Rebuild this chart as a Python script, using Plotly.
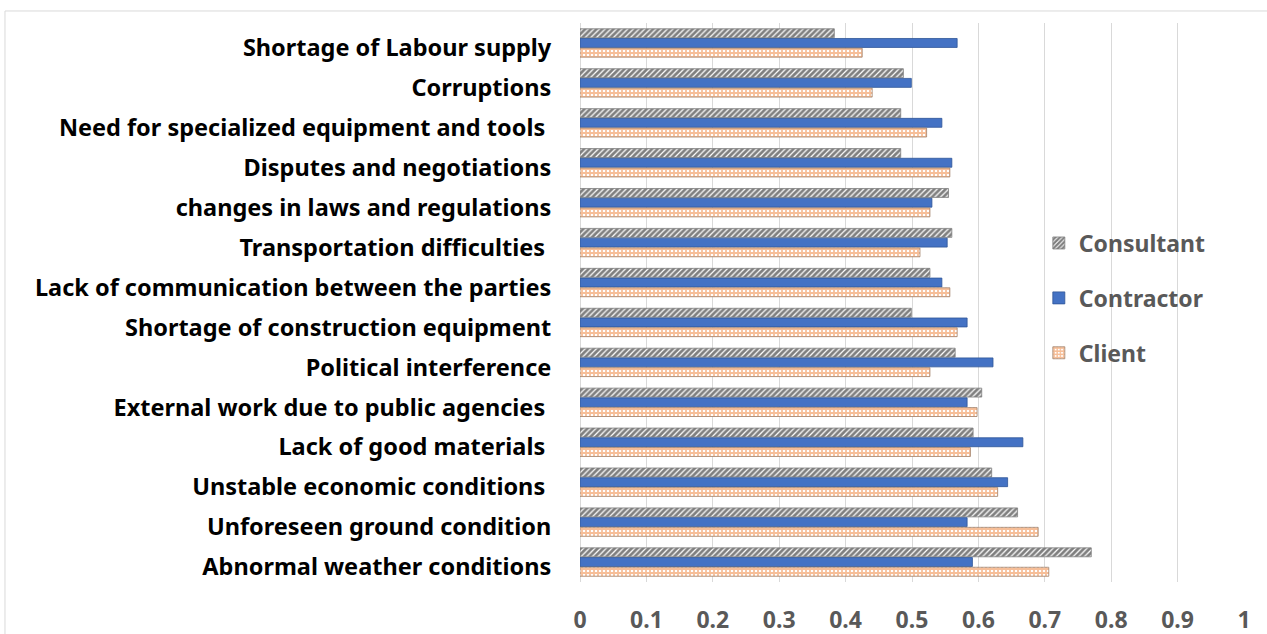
import plotly.graph_objects as go

categories = [
    "Shortage of Labour supply",
    "Corruptions",
    "Need for specialized equipment and tools\u00a0",
    "Disputes and negotiations",
    "changes in laws and regulations",
    "Transportation difficulties\u00a0",
    "Lack of communication between the parties",
    "Shortage of construction equipment",
    "Political interference",
    "External work due to public agencies\u00a0",
    "Lack of good materials\u00a0",
    "Unstable economic conditions\u00a0",
    "Unforeseen ground condition",
    "Abnormal weather conditions",
]
consultant = [0.383, 0.487, 0.483, 0.483, 0.555, 0.560, 0.527, 0.499, 0.565, 0.605, 0.592, 0.620, 0.659, 0.770]
contractor = [0.568, 0.499, 0.545, 0.560, 0.530, 0.553, 0.545, 0.583, 0.622, 0.583, 0.667, 0.644, 0.583, 0.591]
client = [0.425, 0.440, 0.522, 0.557, 0.527, 0.512, 0.557, 0.568, 0.527, 0.598, 0.588, 0.629, 0.690, 0.706]
x_ticks = [0, 0.1, 0.2, 0.3, 0.4, 0.5, 0.6, 0.7, 0.8, 0.9, 1]
x_ticklabels = ["0", "0.1", "0.2", "0.3", "0.4", "0.5", "0.6", "0.7", "0.8", "0.9", "1"]

FONT = "Noto Sans"
GRAY = "#595959"
FS = 23

fig = go.Figure()
fig.add_trace(go.Bar(
    name="Consultant", y=categories, x=consultant, orientation="h",
    legendgroup="a",
    marker=dict(color="white", line=dict(color="#7f7f7f", width=0.8),
                pattern=dict(shape="/", fgcolor="black", bgcolor="white", size=4, solidity=0.7)),
))
fig.add_trace(go.Bar(
    name="Contractor", y=categories, x=contractor, orientation="h",
    legendgroup="b",
    marker=dict(color="#4472C4", line=dict(color="#2f5597", width=0.8)),
))
fig.add_trace(go.Bar(
    name="Client", y=categories, x=client, orientation="h",
    legendgroup="c",
    marker=dict(color="white", line=dict(color="#a0806a", width=0.8),
                pattern=dict(shape="+", fgcolor="#ED7D31", bgcolor="white", size=4, solidity=0.7)),
))

fig.update_layout(
    width=1267, height=634,
    paper_bgcolor="white", plot_bgcolor="white",
    margin=dict(l=580, r=23, t=23, b=52),
    barmode="group", bargap=0.27, bargroupgap=0.08,
    font=dict(family=FONT, size=FS, color=GRAY),
    legend=dict(x=0.691, y=0.508, xanchor="left", yanchor="middle",
                font=dict(family=FONT, size=FS, color=GRAY, weight="bold"),
                tracegroupgap=22, bgcolor="rgba(0,0,0,0)"),
    xaxis=dict(range=[0, 1], tickvals=x_ticks, ticktext=x_ticklabels,
               automargin=False,
               showgrid=True, gridcolor="#d9d9d9", gridwidth=1,
               zeroline=True, zerolinecolor="#d9d9d9", zerolinewidth=1,
               showline=False, ticks="outside", ticklen=17, tickcolor="white",
               tickfont=dict(family=FONT, size=FS, color=GRAY, weight="bold")),
    yaxis=dict(autorange="reversed", showgrid=False, showline=False,
               automargin=False,
               ticks="outside", ticklen=23, tickcolor="white",
               ticklabelshift=-5,
               tickfont=dict(family=FONT, size=23.5, color="black", weight="bold")),
    shapes=[dict(type="rect", xref="paper", yref="paper",
                 x0=-0.866, x1=2, y0=-2, y1=1.0215,
                 line=dict(color="#d9d9d9", width=1), layer="below")],
)

fig.write_html("out.html", config={"displayModeBar": False},
               post_script="document.body.style.margin='0';document.body.style.overflow='hidden';")
